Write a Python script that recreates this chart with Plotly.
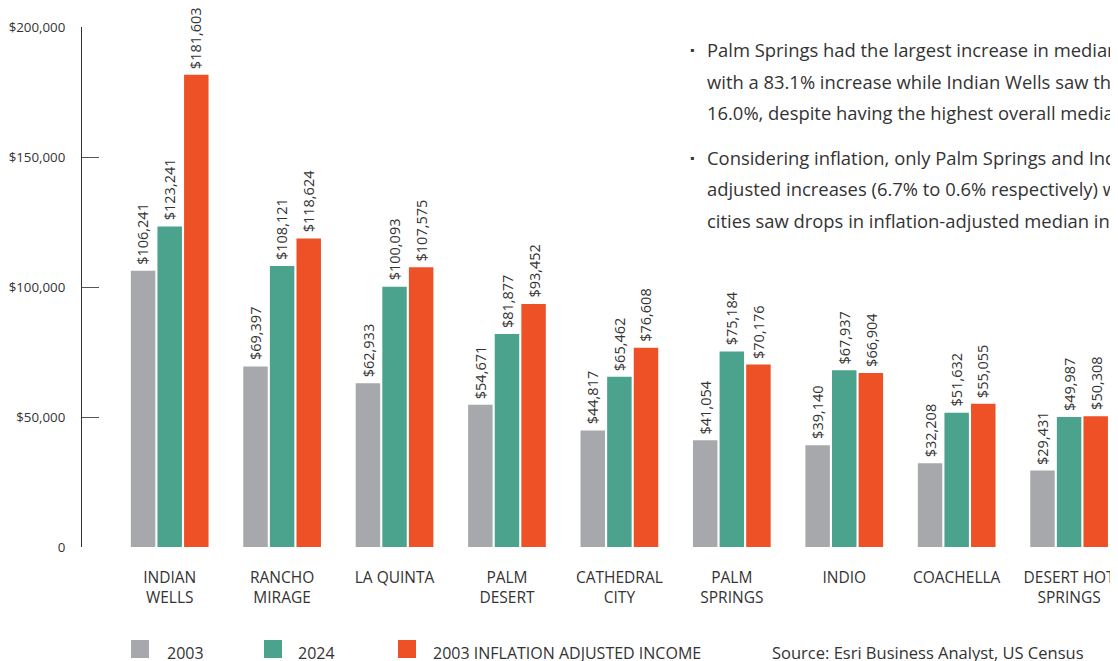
import plotly.graph_objects as go

cities = ["INDIAN<br>WELLS", "RANCHO<br>MIRAGE", "LA QUINTA", "PALM<br>DESERT", "CATHEDRAL<br>CITY",
          "PALM<br>SPRINGS", "INDIO", "COACHELLA", "DESERT HOT<br>SPRINGS"]
income_2003 = [106241, 69397, 62933, 54671, 44817, 41054, 39140, 32208, 29431]
income_2024 = [123241, 108121, 100093, 81877, 65462, 75184, 67937, 51632, 49987]
income_2003_adj = [181603, 118624, 107575, 93452, 76608, 70176, 66904, 55055, 50308]
series_names = ["2003", "2024", "2003 INFLATION ADJUSTED INCOME"]
series_colors = ["#A7A8AC", "#4BA38E", "#EE5126"]
y_ticks = [0, 50000, 100000, 150000, 200000]
y_tick_labels = ["0", "$50,000", "$100,000", "$150,000", "$200,000"]
bullets = [
    ["Palm Springs had the largest increase in median income",
     "with a 83.1% increase while Indian Wells saw the smallest at",
     "16.0%, despite having the highest overall median income."],
    ["Considering inflation, only Palm Springs and Indio saw inflation-",
     "adjusted increases (6.7% to 0.6% respectively) while all other",
     "cities saw drops in inflation-adjusted median income."],
]
source = "Source: Esri Business Analyst, US Census"

SANS = "'Open Sans', sans-serif"
TEXT = "#333333"
OFF = 8  # page body margin in the browser
W, H = 1118 - OFF, 661 - OFF
ML, MR, MT, MB = 82 - OFF, 0, 27 - OFF, 114
PW, PH = W - ML - MR, H - MT - MB
BARGAP, GROUPGAP = 0.29, 0.08


def px_x(p):
    return (p - OFF - ML) / PW


def px_y(p):
    return (H - MB - (p - OFF)) / PH


all_series = [income_2003, income_2024, income_2003_adj]
fig = go.Figure()
for name, vals, col in zip(series_names, all_series, series_colors):
    fig.add_trace(go.Bar(
        x=list(range(len(cities))), y=vals, name=name,
        marker=dict(color=col, line=dict(width=0)),
        hoverinfo="skip", showlegend=False,
    ))

# value labels above each bar
slot = (1 - BARGAP) / len(all_series)
for k, vals in enumerate(all_series):
    for i, v in enumerate(vals):
        fig.add_annotation(
            x=i + (k - 1) * slot, y=v, xref="x", yref="y",
            text=f"${v:,}", textangle=-90, showarrow=False,
            xanchor="center", yanchor="bottom", yshift=4,
            font=dict(family=SANS, size=14.5, color=TEXT),
        )

fig.update_layout(
    width=W, height=H,
    margin=dict(l=ML, r=MR, t=MT, b=MB, autoexpand=False),
    paper_bgcolor="white", plot_bgcolor="white",
    barmode="group", bargap=BARGAP, bargroupgap=GROUPGAP,
    font=dict(family=SANS, color=TEXT, size=13),
    showlegend=False,
    xaxis=dict(range=[-0.78, 8.435], tickmode="array", tickvals=list(range(len(cities))),
               ticktext=cities, showline=False, ticks="", showgrid=False, zeroline=False,
               tickfont=dict(family=SANS, size=15.5, color=TEXT), ticklabelstandoff=19,
               automargin=False),
    yaxis=dict(range=[0, 200000], tickvals=y_ticks, ticktext=y_tick_labels,
               showline=True, linecolor="#333333", linewidth=1,
               ticks="inside", ticklen=17, tickcolor="#555555", tickwidth=1,
               showgrid=False, zeroline=False,
               tickfont=dict(family=SANS, size=13.3, color=TEXT),
               ticklabelstandoff=13, automargin=False),
)

# bullet text block
line_y = [[50, 82, 113], [157, 188, 220]]
for lines, ys in zip(bullets, line_y):
    fig.add_annotation(xref="paper", yref="paper", x=px_x(688), y=px_y(ys[0]),
                       xanchor="left", yanchor="middle", text="▪", showarrow=False,
                       font=dict(family=SANS, size=12, color=TEXT))
    for t, yy in zip(lines, ys):
        fig.add_annotation(xref="paper", yref="paper", x=px_x(705), y=px_y(yy),
                           xanchor="left", yanchor="middle", text=t, showarrow=False,
                           align="left", font=dict(family=SANS, size=18.4, color=TEXT))

# custom legend
leg_sq_x = [131, 264, 398]
leg_tx_x = [165, 296, 431]
for name, col, sx, tx in zip(series_names, series_colors, leg_sq_x, leg_tx_x):
    fig.add_shape(type="rect", xref="paper", yref="paper",
                  x0=px_x(sx), x1=px_x(sx + 18), y0=px_y(658), y1=px_y(640),
                  fillcolor=col, line=dict(width=0))
    fig.add_annotation(xref="paper", yref="paper", x=px_x(tx), y=px_y(653),
                       xanchor="left", yanchor="middle", text=name, showarrow=False,
                       font=dict(family=SANS, size=16, color=TEXT))

fig.add_annotation(xref="paper", yref="paper", x=px_x(770), y=px_y(652),
                   xanchor="left", yanchor="middle", text=source, showarrow=False,
                   font=dict(family=SANS, size=16.5, color=TEXT))

fig.write_html("out.html")
